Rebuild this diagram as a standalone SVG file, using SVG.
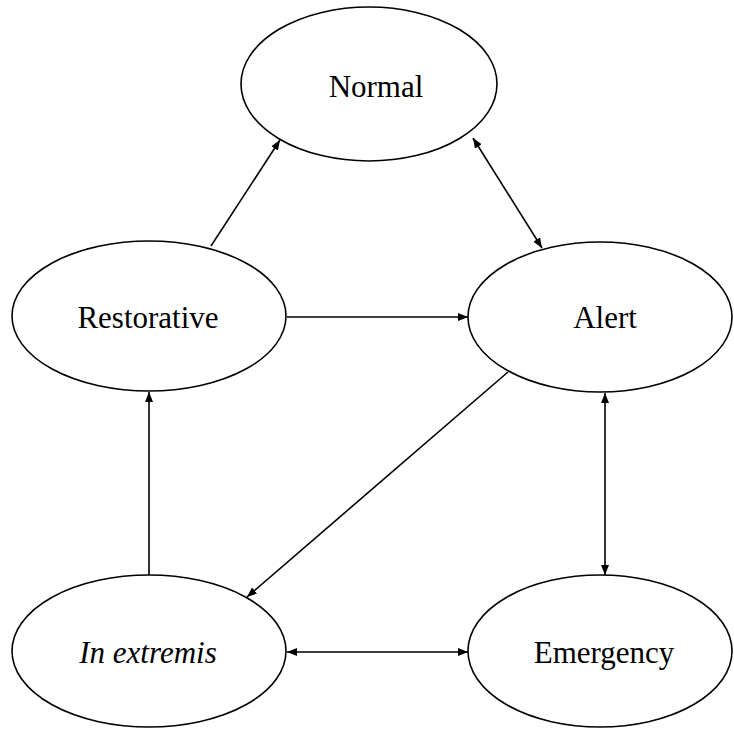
<svg xmlns="http://www.w3.org/2000/svg" width="734" height="729" viewBox="0 0 734 729">
<style>
.node ellipse{fill:#fff;stroke:#000;stroke-width:1.6}
.node text{font-family:"Liberation Serif","Times New Roman",serif;font-size:31px;fill:#000;text-anchor:middle}
.edge{stroke:#000;stroke-width:1.6;fill:none}
</style>
<defs>
<marker id="ah" viewBox="0 0 10 8" refX="10" refY="4" markerWidth="10" markerHeight="8" markerUnits="userSpaceOnUse" orient="auto-start-reverse">
<path d="M0,0 L10,4 L0,8 Z" fill="#000"/>
</marker>
</defs>
<rect width="734" height="729" fill="#fff"/>
<g id="connectors">
<line class="edge" x1="211" y1="246" x2="280" y2="140" marker-end="url(#ah)"/>
<line class="edge" x1="473" y1="138" x2="542" y2="248" marker-start="url(#ah)" marker-end="url(#ah)"/>
<line class="edge" x1="287" y1="317" x2="468" y2="317" marker-end="url(#ah)"/>
<line class="edge" x1="508" y1="372" x2="247" y2="597" marker-end="url(#ah)"/>
<line class="edge" x1="149" y1="575" x2="149" y2="392" marker-end="url(#ah)"/>
<line class="edge" x1="605" y1="393" x2="605" y2="575" marker-start="url(#ah)" marker-end="url(#ah)"/>
<line class="edge" x1="287" y1="652" x2="468" y2="652" marker-start="url(#ah)" marker-end="url(#ah)"/>
</g>
<g id="normal" class="node">
<ellipse cx="369" cy="84" rx="128" ry="77"/>
<text x="376" y="97">Normal</text>
</g>
<g id="restorative" class="node">
<ellipse cx="149" cy="316" rx="137" ry="75"/>
<text x="148" y="328">Restorative</text>
</g>
<g id="alert" class="node">
<ellipse cx="600" cy="317" rx="132" ry="75"/>
<text x="605" y="328">Alert</text>
</g>
<g id="inextremis" class="node">
<ellipse cx="149" cy="651" rx="137" ry="76"/>
<text x="148" y="663" font-style="italic">In extremis</text>
</g>
<g id="emergency" class="node">
<ellipse cx="600" cy="651" rx="132" ry="76"/>
<text x="604" y="663">Emergency</text>
</g>
</svg>
